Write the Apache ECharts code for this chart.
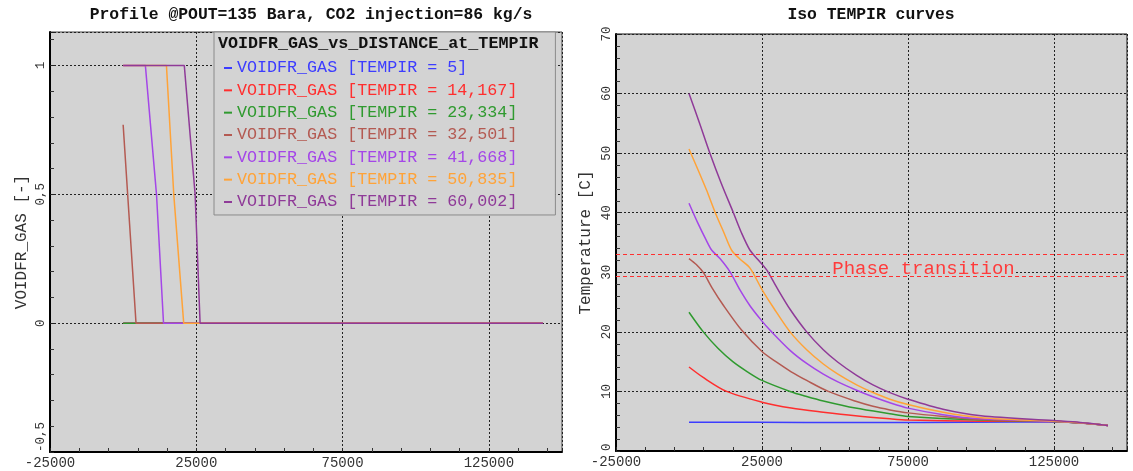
<!DOCTYPE html>
<html>
<head>
<meta charset="utf-8">
<title>VOIDFR_GAS profile / Iso TEMPIR curves</title>
<script src="https://cdn.jsdelivr.net/npm/echarts@6.0.0/dist/echarts.min.js"></script>
<style>
  html, body { margin: 0; padding: 0; background: #fff; }
  #chart { width: 1133px; height: 471px; }
</style>
</head>
<body>
<div id="chart"></div>
<script>
  // TEMPIR values shown in the legend
  var tempirLabels = ['5', '14,167', '23,334', '32,501', '41,668', '50,835', '60,002'];

  // left plot: VOIDFR_GAS [-] against distance
  var voidDist5 = [0, 143500];
  var voidVal5 = [0, 0];
  var voidDist14 = [0, 143500];
  var voidVal14 = [0, 0];
  var voidDist23 = [0, 143500];
  var voidVal23 = [0, 0];
  var voidDist32 = [0, 4400, 143500];
  var voidVal32 = [0.77, 0, 0];
  var voidDist41 = [0, 7600, 11400, 13800, 143500];
  var voidVal41 = [1, 1, 0.5, 0, 0];
  var voidDist50 = [0, 14800, 17300, 20700, 143500];
  var voidVal50 = [1, 1, 0.5, 0, 0];
  var voidDist60 = [0, 20900, 24600, 26300, 143500];
  var voidVal60 = [1, 1, 0.5, 0, 0];

  // right plot: temperature [C] against distance
  var tempDist5 = [0, 40000, 80000, 110000, 125000, 134000, 143500];
  var tempVal5 = [4.83, 4.8, 4.8, 4.85, 4.9, 4.7, 4.3];
  var tempDist14 = [0, 5000, 12900, 25000, 35000, 46000, 57000, 68800, 75000, 100000, 125000, 134000, 143500];
  var tempVal14 = [14.1, 12.3, 10.0, 8.2, 7.2, 6.5, 5.9, 5.4, 5.2, 5.0, 4.95, 4.7, 4.3];
  var tempDist23 = [0, 4900, 10000, 15000, 20000, 25000, 34600, 40300, 46000, 57000, 68800, 75000, 100000, 125000, 134000, 143500];
  var tempVal23 = [23.3, 20.0, 17.2, 15.0, 13.3, 11.85, 10.0, 9.15, 8.4, 7.2, 6.25, 5.8, 5.2, 4.95, 4.7, 4.3];
  var tempDist32 = [0, 2500, 5000, 8000, 11700, 18000, 25000, 30000, 35000, 40300, 47700, 57400, 63000, 68800, 75000, 87000, 100000, 125000, 134000, 143500];
  var tempVal32 = [32.3, 31.3, 29.9, 27.3, 24.5, 20.3, 16.7, 14.9, 13.3, 11.85, 10.0, 8.3, 7.5, 6.9, 6.4, 5.8, 5.3, 5.0, 4.7, 4.3];
  var tempDist41 = [0, 3000, 5900, 7800, 10600, 14000, 17500, 21000, 25000, 27700, 34600, 40300, 46000, 51000, 57400, 63000, 68800, 75000, 87000, 100000, 125000, 134000, 143500];
  var tempVal41 = [41.6, 38.3, 35.4, 33.7, 32.3, 30.1, 27.0, 24.3, 21.8, 20.3, 16.9, 14.7, 12.9, 11.6, 10.2, 9.1, 8.1, 7.2, 6.1, 5.4, 5.0, 4.75, 4.3];
  var tempDist50 = [0, 3000, 6000, 9000, 12000, 14600, 17500, 20900, 25000, 29000, 34600, 40300, 46000, 51000, 57400, 62600, 68800, 75000, 87000, 100000, 125000, 134000, 143500];
  var tempVal50 = [50.7, 47.3, 43.8, 40.0, 36.6, 33.7, 32.2, 30.7, 27.1, 24.0, 20.0, 17.0, 14.6, 12.9, 11.1, 9.9, 8.7, 7.8, 6.5, 5.6, 5.0, 4.75, 4.3];
  var tempDist60 = [0, 3500, 7160, 11000, 15200, 18000, 20900, 23500, 26600, 30000, 34600, 40300, 46000, 51000, 57400, 63000, 68800, 75000, 87000, 100000, 125000, 134000, 143500];
  var tempVal60 = [60.0, 55.2, 50.0, 45.0, 40.0, 36.6, 33.7, 32.2, 30.4, 27.5, 23.8, 20.0, 17.0, 14.9, 12.7, 11.1, 9.8, 8.7, 7.0, 5.9, 5.1, 4.8, 4.3];

  // phase transition band
  var phaseLimits = [33.0, 29.4];

  var voidDist = [voidDist5, voidDist14, voidDist23, voidDist32, voidDist41, voidDist50, voidDist60];
  var voidVal = [voidVal5, voidVal14, voidVal23, voidVal32, voidVal41, voidVal50, voidVal60];
  var tempDist = [tempDist5, tempDist14, tempDist23, tempDist32, tempDist41, tempDist50, tempDist60];
  var tempVal = [tempVal5, tempVal14, tempVal23, tempVal32, tempVal41, tempVal50, tempVal60];

  var lineColors = ['#3c3cff', '#ff2e2e', '#2f9a2f', '#b45a52', '#a446e8', '#ffa338', '#8f3a98'];
  var mono = '"Liberation Mono", "DejaVu Sans Mono", monospace';

  function toPoints(xs, ys) {
    return xs.map(function (x, i) { return [x, ys[i]]; });
  }

  var seriesNames = tempirLabels.map(function (t) {
    return 'VOIDFR_GAS [TEMPIR = ' + t + ']';
  });

  function distanceAxis(gridIndex) {
    return {
      type: 'value', gridIndex: gridIndex,
      min: -25000, max: 150000, interval: 50000,
      axisLine: { show: true, onZero: false, lineStyle: { color: '#000', width: 2 } },
      axisTick: { show: true, inside: true, length: 4, lineStyle: { color: '#222' } },
      minorTick: { show: true, splitNumber: 5, length: 4, lineStyle: { color: '#333' } },
      splitLine: { show: true, lineStyle: { color: '#222', type: [2, 2], width: 1 } },
      axisLabel: {
        showMaxLabel: false, margin: 4, fontFamily: mono, fontSize: 14, color: '#333',
        formatter: function (v) { return String(v); }
      }
    };
  }

  function valueAxis(gridIndex, name, gap, min, max, interval) {
    return {
      type: 'value', gridIndex: gridIndex,
      min: min, max: max, interval: interval,
      name: name, nameLocation: 'middle', nameGap: gap,
      nameTextStyle: { fontFamily: mono, fontSize: 16, color: '#333' },
      axisLine: { show: true, onZero: false, lineStyle: { color: '#000', width: 2 } },
      axisTick: { show: true, inside: true, length: 4, lineStyle: { color: '#222' } },
      minorTick: { show: true, splitNumber: 5, length: 4, lineStyle: { color: '#333' } },
      splitLine: { show: true, lineStyle: { color: '#222', type: [2, 2], width: 1 } },
      axisLabel: {
        rotate: 90, margin: 3, fontFamily: mono, fontSize: 12.5, color: '#333',
        alignMinLabel: 'left',
        formatter: function (v) { return String(v).replace('.', ','); }
      }
    };
  }

  var series = [];
  seriesNames.forEach(function (name, i) {
    series.push({
      name: name, type: 'line', xAxisIndex: 0, yAxisIndex: 0,
      data: toPoints(voidDist[i], voidVal[i]),
      showSymbol: false, symbol: 'none',
      lineStyle: { color: lineColors[i], width: 1.5 }, itemStyle: { color: lineColors[i] }
    });
  });
  seriesNames.forEach(function (name, i) {
    var s = {
      name: name, type: 'line', xAxisIndex: 1, yAxisIndex: 1,
      data: toPoints(tempDist[i], tempVal[i]),
      showSymbol: false, symbol: 'none', smooth: 0.3,
      lineStyle: { color: lineColors[i], width: 1.5 }, itemStyle: { color: lineColors[i] }
    };
    if (i === 0) {
      s.markLine = {
        silent: true, symbol: ['none', 'none'],
        label: { show: false },
        lineStyle: { color: '#ff3030', type: [4, 3], width: 1.2 },
        data: phaseLimits.map(function (v) { return { yAxis: v }; })
      };
      s.markPoint = {
        silent: true, symbol: 'rect', symbolSize: 1,
        itemStyle: { color: 'rgba(0,0,0,0)' },
        label: {
          show: true, position: 'inside', formatter: 'Phase transition',
          color: '#ff3b3b', fontFamily: mono, fontSize: 19, lineHeight: 12,
          backgroundColor: '#d3d3d3', padding: [0, 1]
        },
        data: [{ coord: [80300, 30.55] }]
      };
    }
    series.push(s);
  });

  var chart = echarts.init(document.getElementById('chart'));
  chart.setOption({
    animation: false,
    backgroundColor: '#fff',
    title: [
      { text: 'Profile @POUT=135 Bara, CO2 injection=86 kg/s', left: 306, top: 2, textAlign: 'center',
        textStyle: { fontFamily: mono, fontSize: 16.4, fontWeight: 'bold', color: '#111' } },
      { text: 'Iso TEMPIR curves', left: 866, top: 2, textAlign: 'center',
        textStyle: { fontFamily: mono, fontSize: 16.4, fontWeight: 'bold', color: '#111' } },
      { text: 'VOIDFR_GAS_vs_DISTANCE_at_TEMPIR', left: 213, top: 30,
        textStyle: { fontFamily: mono, fontSize: 16.7, fontWeight: 'bold', color: '#111' } }
    ],
    legend: {
      orient: 'vertical', left: 214, top: 32,
      padding: [27, 38, 4, 10], itemGap: 4.33,
      icon: 'rect', itemWidth: 8, itemHeight: 2,
      backgroundColor: '#d3d3d3', borderColor: '#8a8a8a', borderWidth: 1,
      selectedMode: false,
      textStyle: { fontFamily: mono, fontSize: 16.7, lineHeight: 18 },
      data: seriesNames.map(function (n, i) {
        return { name: n, textStyle: { color: lineColors[i] } };
      })
    },
    grid: [
      { left: 50, top: 32, width: 512, height: 420, show: true,
        backgroundColor: '#d3d3d3', borderColor: '#444', borderWidth: 1 },
      { left: 616, top: 34, width: 511, height: 417, show: true,
        backgroundColor: '#d3d3d3', borderColor: '#111', borderWidth: 1 }
    ],
    xAxis: [distanceAxis(0), distanceAxis(1)],
    yAxis: [
      valueAxis(0, 'VOIDFR_GAS [-]', 20, -0.5, 1.13, 0.5),
      valueAxis(1, 'Temperature [C]', 22, 0, 70, 10)
    ],
    series: series
  });
  chart.setOption({ yAxis: [{ axisLabel: { showMaxLabel: false } }, {}] });
</script>
</body>
</html>
